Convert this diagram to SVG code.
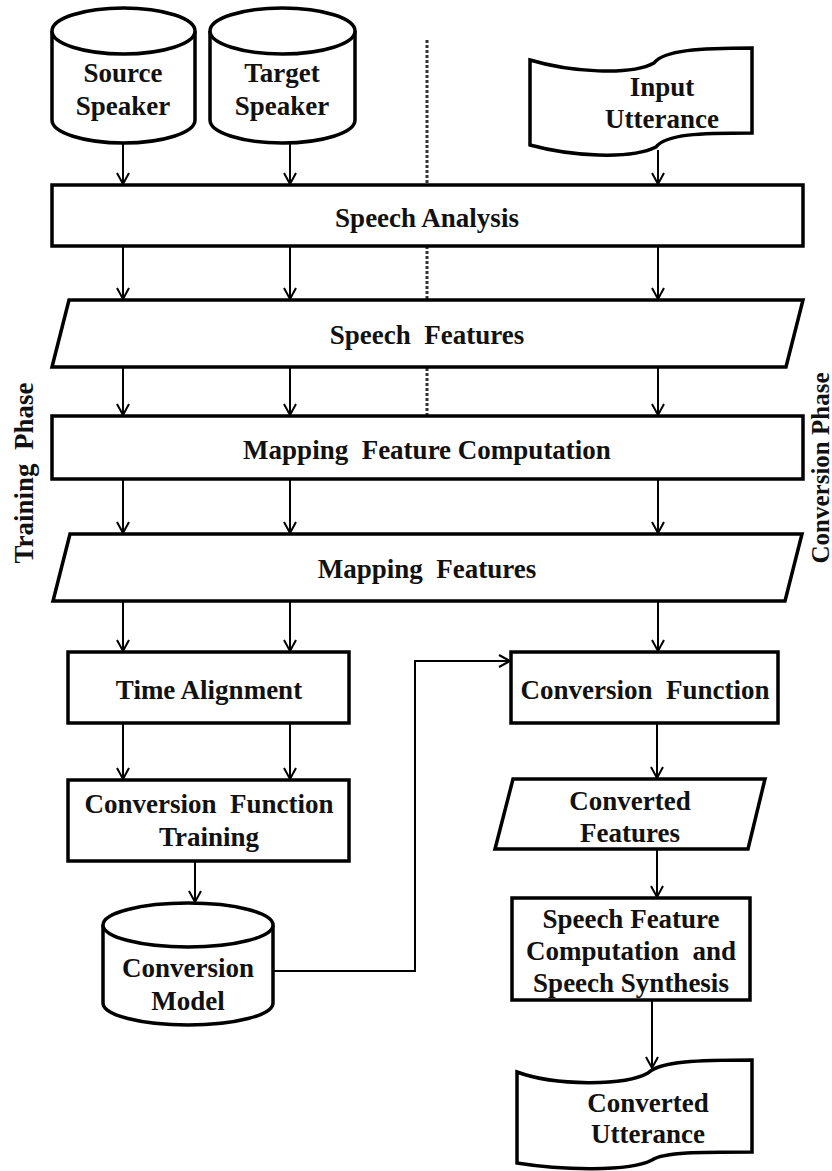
<svg xmlns="http://www.w3.org/2000/svg" width="832" height="1171" viewBox="0 0 832 1171">
  <defs>
    <marker id="arrow" markerWidth="14" markerHeight="14" refX="12" refY="7" orient="auto" markerUnits="userSpaceOnUse">
      <path d="M1,1 L12,7 L1,13" fill="none" stroke="#000" stroke-width="2"/>
    </marker>
    <style>
      .shape { fill: #fff; stroke: #000; stroke-width: 3.5; stroke-linejoin: miter; }
      .edge { fill: none; stroke: #000; stroke-width: 2; marker-end: url(#arrow); }
      .divider { fill: none; stroke: #333; stroke-width: 3; stroke-dasharray: 3 2; }
      .label { font-family: "Liberation Serif", "Times New Roman", serif; font-weight: bold; font-size: 27px; fill: #111; text-anchor: middle; white-space: pre; }
    </style>
  </defs>
  <rect width="832" height="1171" fill="#fff"/>

  <!-- phase divider -->
  <g id="divider">
    <line class="divider" x1="427" y1="40" x2="427" y2="185"/>
    <line class="divider" x1="427" y1="246" x2="427" y2="299"/>
    <line class="divider" x1="427" y1="368" x2="427" y2="415"/>
  </g>

  <!-- side labels -->
  <text class="label" transform="translate(33,473) rotate(-90)">Training&#160;&#160;Phase</text>
  <text class="label" style="font-size:25px" transform="translate(829,468) rotate(-90)">Conversion Phase</text>

  <g id="source-speaker">
    <path class="shape" d="M52,31 A71.5,23 0 0,1 195,31 L195,120 A71.5,23 0 0,1 52,120 Z"/>
    <path class="shape" d="M52,31 A71.5,23 0 0,0 195,31" fill="none"/>
    <text class="label" x="123" y="82">Source</text>
    <text class="label" x="123" y="115">Speaker</text>
  </g>

  <g id="target-speaker">
    <path class="shape" d="M210,31 A72.5,23 0 0,1 355,31 L355,120 A72.5,23 0 0,1 210,120 Z"/>
    <path class="shape" d="M210,31 A72.5,23 0 0,0 355,31" fill="none"/>
    <text class="label" x="282" y="82">Target</text>
    <text class="label" x="282" y="115">Speaker</text>
  </g>

  <g id="input-utterance">
    <path class="shape" d="M530,60 C570,72 630,76 654,63 C664,50 700,48 752,48 L752,133 C700,133 666,134 656,147 C630,160 570,156 530,145 Z"/>
    <text class="label" x="662" y="96">Input</text>
    <text class="label" x="662" y="128">Utterance</text>
  </g>

  <g id="speech-analysis">
    <rect class="shape" x="52" y="185" width="751" height="61"/>
    <text class="label" x="427" y="227">Speech Analysis</text>
  </g>

  <g id="speech-features">
    <polygon class="shape" points="69,300 803,300 786,367 52,367"/>
    <text class="label" x="427" y="344">Speech&#160;&#160;Features</text>
  </g>

  <g id="mapping-feature-computation">
    <rect class="shape" x="52" y="416" width="751" height="63"/>
    <text class="label" x="427" y="459">Mapping&#160;&#160;Feature Computation</text>
  </g>

  <g id="mapping-features">
    <polygon class="shape" points="70,534 802,534 785,601 53,601"/>
    <text class="label" x="427" y="578">Mapping&#160;&#160;Features</text>
  </g>

  <g id="time-alignment">
    <rect class="shape" x="68" y="652" width="281" height="71"/>
    <text class="label" x="209" y="699">Time Alignment</text>
  </g>

  <g id="conversion-function-training">
    <rect class="shape" x="68" y="780" width="281" height="81"/>
    <text class="label" x="209" y="813">Conversion&#160;&#160;Function</text>
    <text class="label" x="209" y="846">Training</text>
  </g>

  <g id="conversion-model">
    <path class="shape" d="M103,925 A85,22 0 0,1 273,925 L273,1003 A85,22 0 0,1 103,1003 Z"/>
    <path class="shape" d="M103,925 A85,22 0 0,0 273,925" fill="none"/>
    <text class="label" x="188" y="977">Conversion</text>
    <text class="label" x="188" y="1010">Model</text>
  </g>

  <g id="conversion-function">
    <rect class="shape" x="511" y="652" width="267" height="71"/>
    <text class="label" x="645" y="699">Conversion&#160;&#160;Function</text>
  </g>

  <g id="converted-features">
    <polygon class="shape" points="513,779 765,779 748,849 495,849"/>
    <text class="label" x="630" y="810">Converted</text>
    <text class="label" x="630" y="842">Features</text>
  </g>

  <g id="speech-synthesis">
    <rect class="shape" x="512" y="898" width="238" height="102"/>
    <text class="label" x="631" y="928">Speech Feature</text>
    <text class="label" x="631" y="960">Computation&#160;&#160;and</text>
    <text class="label" x="631" y="992">Speech Synthesis</text>
  </g>

  <g id="converted-utterance">
    <path class="shape" d="M517,1072 C555,1086 625,1086 648,1073 C660,1061 700,1060 752,1060 L752,1152 C700,1152 664,1152 652,1160 C630,1172 560,1170 517,1163 Z"/>
    <text class="label" x="648" y="1112">Converted</text>
    <text class="label" x="648" y="1143">Utterance</text>
  </g>

  <g id="connectors">
    <line class="edge" x1="123" y1="143" x2="123" y2="184"/>
    <line class="edge" x1="290" y1="143" x2="290" y2="184"/>
    <line class="edge" x1="658" y1="150" x2="658" y2="184"/>

    <line class="edge" x1="123" y1="246" x2="123" y2="299"/>
    <line class="edge" x1="290" y1="246" x2="290" y2="299"/>
    <line class="edge" x1="658" y1="246" x2="658" y2="299"/>

    <line class="edge" x1="123" y1="367" x2="123" y2="415"/>
    <line class="edge" x1="290" y1="367" x2="290" y2="415"/>
    <line class="edge" x1="658" y1="367" x2="658" y2="415"/>

    <line class="edge" x1="123" y1="479" x2="123" y2="533"/>
    <line class="edge" x1="290" y1="479" x2="290" y2="533"/>
    <line class="edge" x1="658" y1="479" x2="658" y2="533"/>

    <line class="edge" x1="123" y1="601" x2="123" y2="651"/>
    <line class="edge" x1="290" y1="601" x2="290" y2="651"/>
    <line class="edge" x1="658" y1="601" x2="658" y2="651"/>

    <line class="edge" x1="123" y1="723" x2="123" y2="779"/>
    <line class="edge" x1="290" y1="723" x2="290" y2="779"/>

    <line class="edge" x1="195" y1="861" x2="195" y2="902"/>
    <path class="edge" d="M273,971 H415 V661 H510"/>

    <line class="edge" x1="657" y1="723" x2="657" y2="778"/>
    <line class="edge" x1="657" y1="849" x2="657" y2="897"/>
    <line class="edge" x1="652" y1="1000" x2="652" y2="1068"/>
  </g>
</svg>
